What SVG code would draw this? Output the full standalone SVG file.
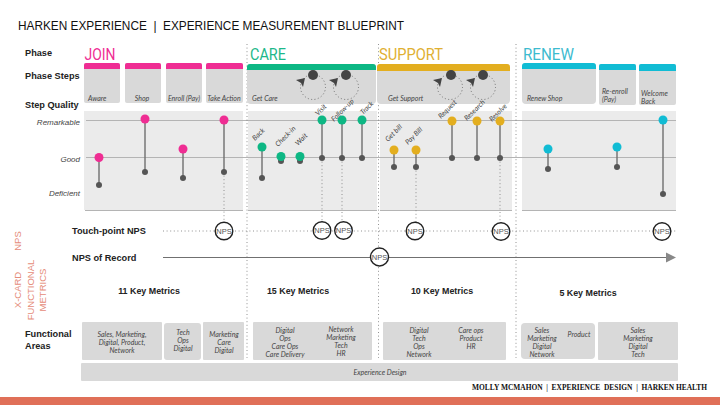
<svg xmlns="http://www.w3.org/2000/svg" width="720" height="405" viewBox="0 0 720 405">
<style>
text{font-family:"Liberation Sans",Arial,sans-serif}
.h{font-size:9.2px;font-weight:700;fill:#222}
.ph{font-size:17px;font-family:"Roboto","Liberation Sans",sans-serif}
.i{font-size:7px;font-style:italic;fill:#444}
.i text{font-family:Lato,"Liberation Sans",sans-serif}
.i2{font-family:Lato,"Liberation Sans",sans-serif}
.c{text-anchor:middle}
.q{font-size:8px;font-style:italic;fill:#444;text-anchor:end}
.km{font-size:8.900px;font-weight:700;fill:#222;text-anchor:middle}
.r{font-size:9.500px;fill:#E58C7A;text-anchor:middle}
.card{fill:#d9d9d9}
.panel{fill:#ebebeb}
.fa{fill:#d9d9d9}
.stem{stroke:#707070;stroke-width:1.400;fill:none}
.base{fill:#555}
.dot{stroke:#777;stroke-width:.8;stroke-dasharray:1 2.600;fill:none}
.rule{stroke:#b4b4b4;stroke-width:1;fill:none}
.ring{fill:#fff;stroke:#222;stroke-width:1.400}
.nps{font-size:7.500px;fill:#555;text-anchor:middle}
.loop{stroke:#555;stroke-width:.8;stroke-dasharray:1 2.400;fill:none}
.pin{fill:#444}
.join{fill:#EF2D93}.care{fill:#0DB784}.sup{fill:#E3AE1F}.ren{fill:#11BCD4}
</style>
<rect width="720" height="405" fill="#fff"/>
<text x="18" y="30" font-size="12" fill="#111" xml:space="preserve" textLength="386" lengthAdjust="spacingAndGlyphs">HARKEN EXPERIENCE  |  EXPERIENCE MEASUREMENT BLUEPRINT</text>
<rect x="0" y="397" width="720" height="8" fill="#E07058"/>
<text x="472" y="390" font-size="7.600" font-weight="700" fill="#111" style="font-family:'Liberation Serif',serif" xml:space="preserve" textLength="235" lengthAdjust="spacingAndGlyphs">MOLLY MCMAHON  |  EXPERIENCE  DESIGN  |  HARKEN HEALTH</text>

<g id="labels">
<text class="h" x="25" y="56">Phase</text>
<text class="h" x="25" y="79">Phase Steps</text>
<text class="h" x="25" y="108">Step Quality</text>
<text class="q" x="80" y="125">Remarkable</text>
<text class="q" x="80" y="162">Good</text>
<text class="q" x="80" y="196">Deficient</text>
<text class="h" x="72" y="234">Touch-point NPS</text>
<text class="h" x="72" y="261">NPS of Record</text>
<text class="h" x="25" y="337">Functional</text>
<text class="h" x="25" y="349">Areas</text>
<text class="r" transform="translate(21,241) rotate(-90)">NPS</text>
<text class="r" transform="translate(21,290) rotate(-90)">X-CARD</text>
<text class="r" transform="translate(33.500,290) rotate(-90)">FUNCTIONAL</text>
<text class="r" transform="translate(45.500,290) rotate(-90)">METRICS</text>
</g>

<g id="panels">
<rect class="panel" x="84" y="111" width="159" height="99"/>
<rect class="panel" x="248" y="111" width="129" height="99"/>
<rect class="panel" x="380" y="111" width="132" height="99"/>
<rect class="panel" x="522" y="111" width="154" height="99"/>
<path class="rule" d="M86 120.500H676M86 157.500H676"/>
<path class="rule" d="M85 210.500H243M248 210.500H377M380 210.500H512M522 210.500H676" stroke-width="1.200"/>
</g>

<g id="connectors">
<path class="dot" d="M247 44V358M378.500 44V358M516 44V358"/>
<path class="dot" d="M224 172V222M322 158V222M342 158V222M416 167V222M500 158V222"/>
<path class="dot" d="M163 231H676"/>
<path d="M163 257.500H667" stroke="#707070" stroke-width="1.200"/>
<polygon points="666,252.500 676,257.500 666,262.500" fill="#888"/>
<path class="stem" d="M99 157V185M145 119V172M183 149V178M224 120V172M262 147V178M322 120V158M342 120V158M362 120V158M394 150V167M416 150V167M452 121V158M477 121V158M500 121V158M548 149V169M617 147V167M663 120V194"/>
</g>

<g id="phase-join">
<text class="ph" x="84.500" y="59.500" style="fill:#EF2D93" textLength="31" lengthAdjust="spacingAndGlyphs">JOIN</text>
<g id="step-aware" class="i"><rect class="card" x="84" y="63" width="36" height="40" rx="2"/><path class="join" d="M84 69V65a2 2 0 0 1 2-2H118a2 2 0 0 1 2 2V69Z"/><text x="88" y="101">Aware</text></g>
<g id="step-shop" class="i"><rect class="card" x="125" y="63" width="36" height="40" rx="2"/><path class="join" d="M125 69V65a2 2 0 0 1 2-2H159a2 2 0 0 1 2 2V69Z"/><text x="142" y="101" text-anchor="middle">Shop</text></g>
<g id="step-enroll" class="i"><rect class="card" x="166" y="63" width="36" height="40" rx="2"/><path class="join" d="M166 69V65a2 2 0 0 1 2-2H200a2 2 0 0 1 2 2V69Z"/><text x="184" y="101" text-anchor="middle">Enroll (Pay)</text></g>
<g id="step-action" class="i"><rect class="card" x="206" y="63" width="37" height="40" rx="2"/><path class="join" d="M206 69V65a2 2 0 0 1 2-2H241a2 2 0 0 1 2 2V69Z"/><text x="224" y="101" text-anchor="middle">Take Action</text></g>
</g>

<g id="phase-care" class="i">
<text class="ph" x="250" y="59.500" style="fill:#1DB88A;font-style:normal;font-family:Roboto,sans-serif;font-size:17px" textLength="36" lengthAdjust="spacingAndGlyphs">CARE</text>
<rect class="card" x="247" y="64" width="129" height="40" rx="4"/><path class="care" d="M247 70V67a3 3 0 0 1 3-3H373a3 3 0 0 1 3 3V70Z"/>
<text x="252" y="101">Get Care</text>
<g id="loop-care-1"><circle class="loop" cx="313" cy="87" r="12.500"/><circle class="pin" cx="313" cy="75" r="5"/><polygon class="pin" points="296,80 305,78 303,87 301,83"/></g>
<g id="loop-care-2"><circle class="loop" cx="346" cy="87" r="12.500"/><circle class="pin" cx="346" cy="75" r="5"/><polygon class="pin" points="329,80 338,78 336,87 334,83"/></g>
</g>

<g id="phase-support" class="i">
<text class="ph" x="379" y="59.500" style="fill:#E0B032;font-style:normal;font-family:Roboto,sans-serif;font-size:17px" textLength="64" lengthAdjust="spacingAndGlyphs">SUPPORT</text>
<rect class="card" x="377" y="64" width="133" height="40" rx="4"/><path class="sup" d="M377 71V67a3 3 0 0 1 3-3H507a3 3 0 0 1 3 3V71Z"/>
<text x="388" y="101">Get Support</text>
<g id="loop-sup-1"><circle class="loop" cx="450" cy="87" r="12.500"/><circle class="pin" cx="451" cy="75" r="5"/><polygon class="pin" points="433,80 442,78 440,87 438,83"/></g>
<g id="loop-sup-2"><circle class="loop" cx="483" cy="87" r="12.500"/><circle class="pin" cx="483" cy="75" r="5"/><polygon class="pin" points="466,80 475,78 473,87 471,83"/></g>
</g>

<g id="phase-renew" class="i">
<text class="ph" x="523" y="59.500" style="fill:#3DBBCF;font-style:normal;font-family:Roboto,sans-serif;font-size:17px" textLength="51" lengthAdjust="spacingAndGlyphs">RENEW</text>
<g id="step-renew"><rect class="card" x="522" y="63" width="74" height="41" rx="4"/><path class="ren" d="M522 69V66a3 3 0 0 1 3-3H593a3 3 0 0 1 3 3V69Z"/><text x="527" y="101">Renew Shop</text></g>
<g id="step-reenroll"><rect class="card" x="599" y="64" width="37" height="41" rx="2"/><path class="ren" d="M599 70V66a2 2 0 0 1 2-2H634a2 2 0 0 1 2 2V70Z"/><text x="602" y="94">Re-enroll</text><text x="602" y="102">(Pay)</text></g>
<g id="step-welcome"><rect class="card" x="639" y="64" width="37" height="41" rx="2"/><path class="ren" d="M639 71V66a2 2 0 0 1 2-2H674a2 2 0 0 1 2 2V71Z"/><text x="641" y="96">Welcome</text><text x="641" y="104">Back</text></g>
</g>

<g id="touchpoints">
<g class="base"><circle cx="99" cy="185" r="3"/><circle cx="145" cy="172" r="3"/><circle cx="183" cy="178" r="3"/><circle cx="224" cy="172" r="3"/><circle cx="262" cy="178" r="3"/><circle cx="281" cy="161" r="3"/><circle cx="300" cy="161" r="3"/><circle cx="322" cy="158" r="3"/><circle cx="342" cy="158" r="3"/><circle cx="362" cy="158" r="3"/><circle cx="394" cy="167" r="3"/><circle cx="416" cy="167" r="3"/><circle cx="452" cy="158" r="3"/><circle cx="477" cy="158" r="3"/><circle cx="500" cy="158" r="3"/><circle cx="548" cy="169" r="3"/><circle cx="617" cy="167" r="3"/><circle cx="663" cy="194" r="3"/></g>
<g class="join"><circle cx="99" cy="157.500" r="4.500"/><circle cx="145" cy="119" r="4.500"/><circle cx="183" cy="149" r="4.500"/><circle cx="224" cy="120" r="4.500"/></g>
<g class="care"><circle cx="262" cy="147" r="4.500"/><circle cx="281" cy="156.500" r="4.500"/><circle cx="300" cy="156.500" r="4.500"/><circle cx="322" cy="120" r="4.500"/><circle cx="342" cy="120" r="4.500"/><circle cx="362" cy="120" r="4.500"/></g>
<g class="sup"><circle cx="394" cy="150" r="4.500"/><circle cx="416" cy="150" r="4.500"/><circle cx="452" cy="121" r="4.500"/><circle cx="477" cy="121" r="4.500"/><circle cx="500" cy="121" r="4.500"/></g>
<g class="ren"><circle cx="548" cy="149" r="4.500"/><circle cx="617" cy="147" r="4.500"/><circle cx="663" cy="120" r="4.500"/></g>
<g class="i">
<text transform="translate(255,141) rotate(-45)">Back</text>
<text transform="translate(278,147) rotate(-45)">Check-in</text>
<text transform="translate(298,146) rotate(-45)">Wait</text>
<text transform="translate(318,116) rotate(-45)">Visit</text>
<text transform="translate(334,122) rotate(-45)">Follow-up</text>
<text transform="translate(363,115) rotate(-45)">Track</text>
<text transform="translate(388,142) rotate(-45)">Get bill</text>
<text transform="translate(408,145) rotate(-45)">Pay Bill</text>
<text transform="translate(441,119) rotate(-45)">Request</text>
<text transform="translate(467,121) rotate(-45)">Research</text>
<text transform="translate(492,122) rotate(-45)">Resolve</text>
</g>
</g>

<g id="nps">
<g id="nps-1"><circle class="ring" cx="224" cy="231" r="8.800"/><text class="nps" x="224" y="233.700">NPS</text></g>
<g id="nps-2"><circle class="ring" cx="322" cy="230.500" r="8.800"/><text class="nps" x="322" y="233.200">NPS</text></g>
<g id="nps-3"><circle class="ring" cx="343.500" cy="230.500" r="8.800"/><text class="nps" x="343.500" y="233.200">NPS</text></g>
<g id="nps-4"><circle class="ring" cx="415" cy="231" r="8.800"/><text class="nps" x="415" y="233.700">NPS</text></g>
<g id="nps-5"><circle class="ring" cx="501" cy="231.500" r="8.800"/><text class="nps" x="501" y="234.200">NPS</text></g>
<g id="nps-6"><circle class="ring" cx="662" cy="231.500" r="8.800"/><text class="nps" x="662" y="234.200">NPS</text></g>
<g id="nps-record"><circle class="ring" cx="379.500" cy="257" r="9"/><text class="nps" x="379.500" y="259.700">NPS</text></g>
</g>

<g id="metrics">
<text class="km" x="149" y="294">11 Key Metrics</text>
<text class="km" x="298" y="294">15 Key Metrics</text>
<text class="km" x="442" y="294">10 Key Metrics</text>
<text class="km" x="588" y="296">5 Key Metrics</text>
</g>

<g id="functional-areas">
<g class="i">
<rect class="fa" x="82" y="322" width="80" height="38" rx="1"/>
<rect class="fa" x="164" y="323" width="37" height="37" rx="3"/>
<rect class="fa" x="203" y="322" width="41" height="38" rx="1"/>
<rect class="fa" x="253" y="322" width="119" height="38" rx="1"/>
<rect class="fa" x="383" y="322" width="123" height="38" rx="1"/>
<rect class="fa" x="521" y="323" width="74" height="36" rx="4"/>
<rect class="fa" x="598" y="322" width="80" height="38" rx="1"/>
<rect class="fa" x="81" y="363" width="597" height="18" rx="1"/>
<text class="c" x="122" y="337">Sales, Marketing,</text><text class="c" x="122" y="345">Digital, Product,</text><text class="c" x="122" y="353">Network</text>
<text class="c" x="183" y="335">Tech</text><text class="c" x="183" y="343">Ops</text><text class="c" x="183" y="351">Digital</text>
<text class="c" x="224" y="337">Marketing</text><text class="c" x="224" y="345">Care</text><text class="c" x="224" y="353">Digital</text>
<text class="c" x="285" y="333">Digital</text><text class="c" x="285" y="341">Ops</text><text class="c" x="285" y="349">Care Ops</text><text class="c" x="285" y="357">Care Delivery</text>
<text class="c" x="341" y="332">Network</text><text class="c" x="341" y="340">Marketing</text><text class="c" x="341" y="348">Tech</text><text class="c" x="341" y="356">HR</text>
<text class="c" x="419" y="333">Digital</text><text class="c" x="419" y="341">Tech</text><text class="c" x="419" y="349">Ops</text><text class="c" x="419" y="357">Network</text>
<text class="c" x="471" y="333">Care ops</text><text class="c" x="471" y="341">Product</text><text class="c" x="471" y="349">HR</text>
<text class="c" x="542" y="333">Sales</text><text class="c" x="542" y="341">Marketing</text><text class="c" x="542" y="349">Digital</text><text class="c" x="542" y="357">Network</text>
<text class="c" x="579" y="337">Product</text>
<text class="c" x="638" y="333">Sales</text><text class="c" x="638" y="341">Marketing</text><text class="c" x="638" y="349">Digital</text><text class="c" x="638" y="357">Tech</text>
<text class="c" x="380" y="375">Experience Design</text>
</g>
</g>
</svg>
